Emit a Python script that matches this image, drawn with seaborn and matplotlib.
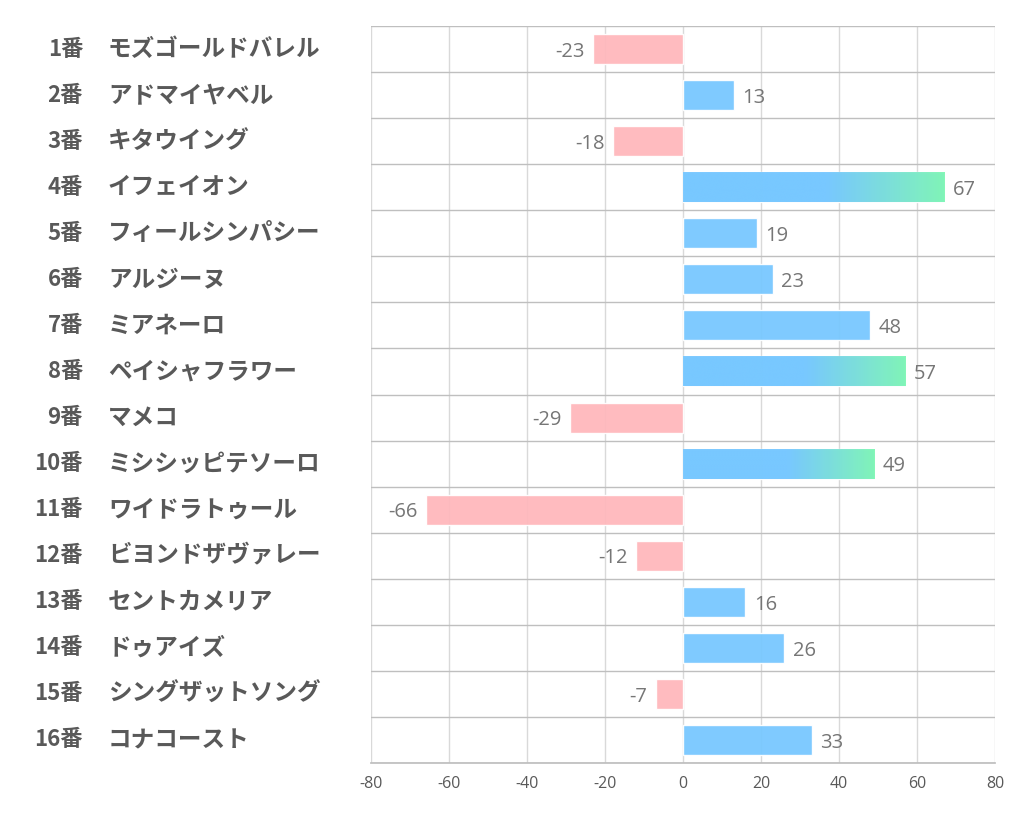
import numpy as np
import pandas as pd
import matplotlib
matplotlib.use("Agg")
import matplotlib.pyplot as plt
import seaborn as sns
from matplotlib.colors import LinearSegmentedColormap, to_rgb
from matplotlib.transforms import blended_transform_factory

numbers = ["1番", "2番", "3番", "4番", "5番", "6番", "7番", "8番",
           "9番", "10番", "11番", "12番", "13番", "14番", "15番", "16番"]
names = ["モズゴールドバレル", "アドマイヤベル", "キタウイング", "イフェイオン",
         "フィールシンパシー", "アルジーヌ", "ミアネーロ", "ペイシャフラワー",
         "マメコ", "ミシシッピテソーロ", "ワイドラトゥール", "ビヨンドザヴァレー",
         "セントカメリア", "ドゥアイズ", "シングザットソング", "コナコースト"]
values = [-23, 13, -18, 67, 19, 23, 48, 57, -29, 49, -66, -12, 16, 26, -7, 33]
xticks = [-80, -60, -40, -20, 0, 20, 40, 60, 80]

BLUE = "#78C8FF"
GREEN = "#80F7B4"
PINK = "#FFB8BC"

sns.set_theme(style="white")
plt.rcParams['font.family'] = ['Noto Sans CJK JP', 'DejaVu Sans']

df = pd.DataFrame({"horse": numbers, "value": values})
colors = [BLUE if v >= 0 else PINK for v in values]

fig = plt.figure(figsize=(10.22, 8.34), dpi=100)
ax = fig.add_axes([371/1022, 1-763/834, (995-371)/1022, (763-26)/834])

sns.barplot(data=df, y="horse", x="value", hue="horse", palette=colors,
            legend=False, orient="h", width=0.65, ax=ax, alpha=0.95,
            saturation=1, order=numbers)

ax.set_xlim(-80, 80)
ax.set_ylim(len(numbers) - 0.5, -0.5)
ax.set_xticks(xticks)
ax.set_xticklabels([str(t) for t in xticks], fontsize=11.5, color="#595959",
                   family=["Open Sans", "DejaVu Sans"])
ax.tick_params(axis="x", length=0, pad=9)
ax.set_yticks(range(len(numbers)))
ax.set_yticklabels([])
ax.tick_params(axis="y", length=0)
ax.set_yticks(np.arange(-0.5, len(numbers), 1.0), minor=True)
ax.tick_params(axis="y", which="minor", length=0)
ax.set_axisbelow(True)
ax.grid(True, which="major", axis="x", color="#D9D9D9", linewidth=1)
ax.grid(True, which="minor", axis="y", color="#BFBFBF", linewidth=1)
ax.grid(False, which="major", axis="y")
for s in ["top", "right", "left"]:
    ax.spines[s].set_visible(False)
ax.spines["bottom"].set_color("#BFBFBF")
ax.set_xlabel("")
ax.set_ylabel("")

# gradient for top 3 bars
top3 = sorted(range(len(values)), key=lambda i: values[i], reverse=True)[:3]
b = np.array(to_rgb(BLUE))
g = np.array(to_rgb(GREEN))
cmap = LinearSegmentedColormap.from_list("bg", [(0, b), (0.55, b), (1, g)])
grad = np.linspace(0, 1, 256).reshape(1, -1)
patches = ax.patches
for i in top3:
    p = patches[i]
    x0, y0 = p.get_x(), p.get_y()
    w, h = p.get_width(), p.get_height()
    im = ax.imshow(grad, cmap=cmap, aspect="auto", extent=[x0, x0 + w, y0 + h, y0],
                   zorder=p.get_zorder() + 0.1, alpha=0.95, interpolation="bicubic")
    im.set_clip_path(p)
ax.set_xlim(-80, 80)
ax.set_ylim(len(numbers) - 0.5, -0.5)

# value labels
for i, v in enumerate(values):
    if v >= 0:
        ax.annotate(str(v), (v, i), xytext=(6, -2), textcoords="offset points",
                    ha="left", va="center", fontsize=14.5, color="#767676",
                    family=["Open Sans", "DejaVu Sans"])
    else:
        ax.annotate(str(v), (v, i), xytext=(-6, -2), textcoords="offset points",
                    ha="right", va="center", fontsize=14.5, color="#767676",
                    family=["Open Sans", "DejaVu Sans"])

# category labels
tr = blended_transform_factory(fig.transFigure, ax.transData)
for i, (n, nm) in enumerate(zip(numbers, names)):
    ax.text(83/1022, i, n, transform=tr, ha="right", va="center", fontsize=16,
            fontweight="bold", color="#595959", clip_on=False)
    ax.text(108/1022, i, nm, transform=tr, ha="left", va="center", fontsize=17,
            fontweight="bold", color="#595959", clip_on=False)

fig.savefig("out.png", dpi=100)
